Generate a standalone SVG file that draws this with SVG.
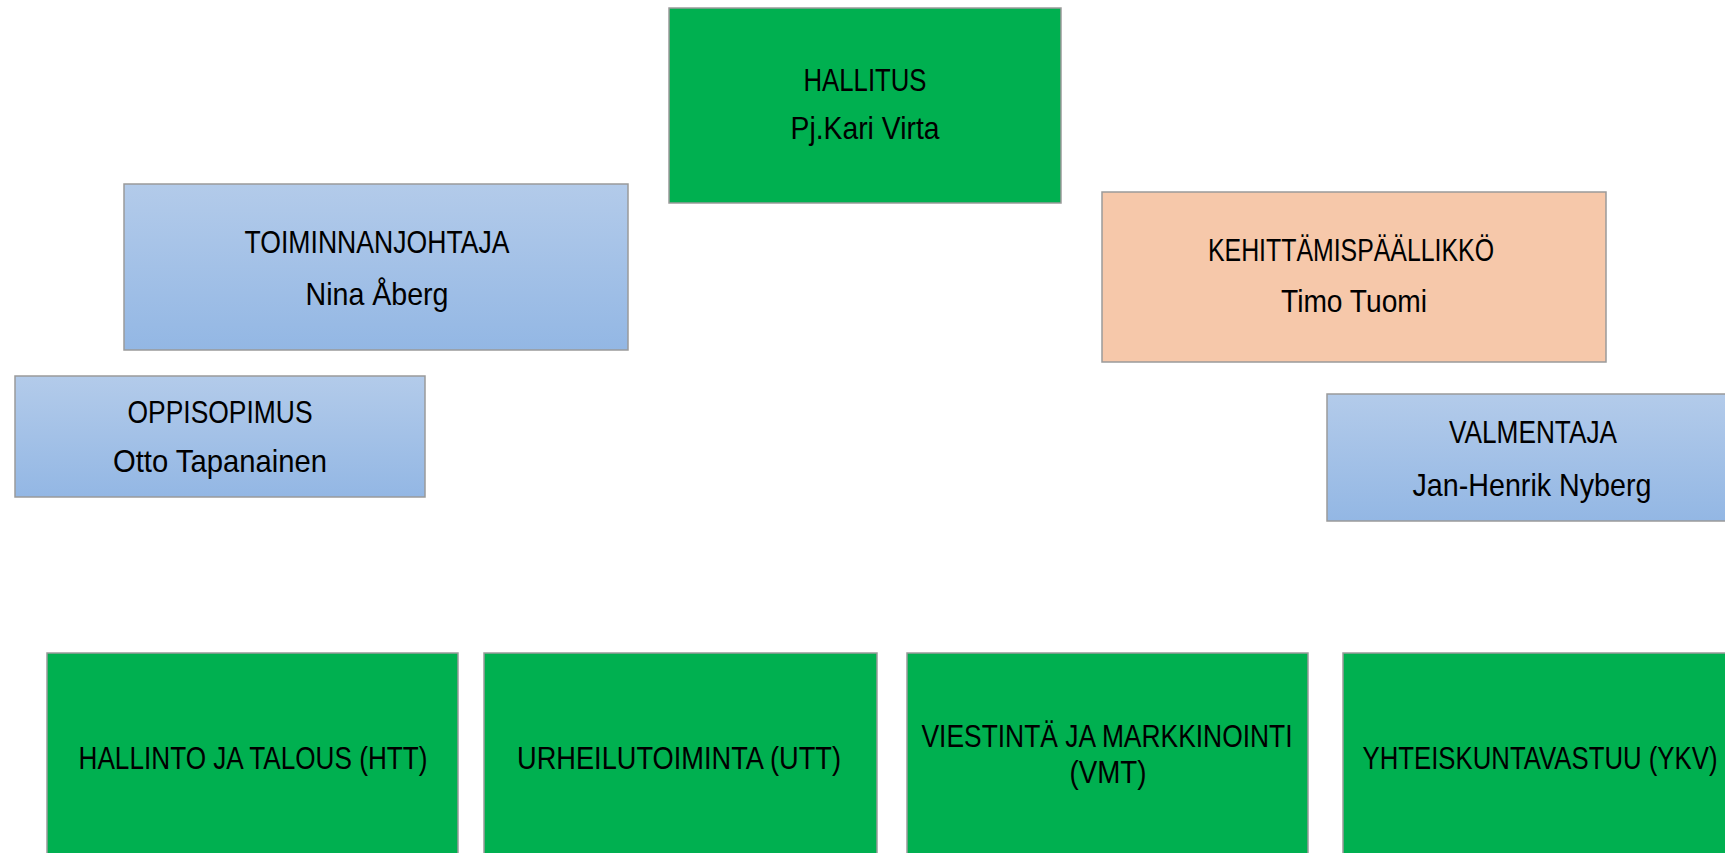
<svg xmlns="http://www.w3.org/2000/svg" width="1725" height="853" viewBox="0 0 1725 853">
<defs>
<linearGradient id="blueGrad" x1="0" y1="0" x2="0" y2="1">
<stop offset="0" stop-color="#B3CBEA"/>
<stop offset="1" stop-color="#93B7E4"/>
</linearGradient>
</defs>
<style>
.box{stroke:#9a9a9a;stroke-width:1.5}
.green{fill:#00B050}
.blue{fill:url(#blueGrad)}
.peach{fill:#F6C8AA}
.t{font-family:"Liberation Sans",Arial,sans-serif;font-size:32px;fill:#000;text-anchor:middle}
</style>
<rect x="0" y="0" width="1725" height="853" fill="#FFFFFF"/>
<g id="connectors"></g>
<g id="hallitus">
<rect class="box green" x="669" y="8" width="392" height="195"/>
<text class="t" x="865" y="91" textLength="123" lengthAdjust="spacingAndGlyphs">HALLITUS</text>
<text class="t" x="865" y="139" textLength="149" lengthAdjust="spacingAndGlyphs">Pj.Kari Virta</text>
</g>
<g id="toiminnanjohtaja">
<rect class="box blue" x="124" y="184" width="504" height="166"/>
<text class="t" x="377" y="253" textLength="265" lengthAdjust="spacingAndGlyphs">TOIMINNANJOHTAJA</text>
<text class="t" x="377" y="305" textLength="143" lengthAdjust="spacingAndGlyphs">Nina Åberg</text>
</g>
<g id="oppisopimus">
<rect class="box blue" x="15" y="376" width="410" height="121"/>
<text class="t" x="220" y="423" textLength="185" lengthAdjust="spacingAndGlyphs">OPPISOPIMUS</text>
<text class="t" x="220" y="472" textLength="214" lengthAdjust="spacingAndGlyphs">Otto Tapanainen</text>
</g>
<g id="kehittamispaallikko">
<rect class="box peach" x="1102" y="192" width="504" height="170"/>
<text class="t" x="1351" y="261" textLength="286" lengthAdjust="spacingAndGlyphs">KEHITTÄMISPÄÄLLIKKÖ</text>
<text class="t" x="1354" y="312" textLength="146" lengthAdjust="spacingAndGlyphs">Timo Tuomi</text>
</g>
<g id="valmentaja">
<rect class="box blue" x="1327" y="394" width="420" height="127"/>
<text class="t" x="1533" y="443" textLength="168" lengthAdjust="spacingAndGlyphs">VALMENTAJA</text>
<text class="t" x="1532" y="496" textLength="239" lengthAdjust="spacingAndGlyphs">Jan-Henrik Nyberg</text>
</g>
<g id="htt">
<rect class="box green" x="47" y="653" width="411" height="210"/>
<text class="t" x="253" y="769" textLength="349" lengthAdjust="spacingAndGlyphs">HALLINTO JA TALOUS (HTT)</text>
</g>
<g id="utt">
<rect class="box green" x="484" y="653" width="393" height="210"/>
<text class="t" x="679" y="769" textLength="324" lengthAdjust="spacingAndGlyphs">URHEILUTOIMINTA (UTT)</text>
</g>
<g id="vmt">
<rect class="box green" x="907" y="653" width="401" height="210"/>
<text class="t" x="1107" y="747" textLength="371" lengthAdjust="spacingAndGlyphs">VIESTINTÄ JA MARKKINOINTI</text>
<text class="t" x="1108" y="783" textLength="77" lengthAdjust="spacingAndGlyphs">(VMT)</text>
</g>
<g id="ykv">
<rect class="box green" x="1343" y="653" width="400" height="210"/>
<text class="t" x="1540" y="769" textLength="355" lengthAdjust="spacingAndGlyphs">YHTEISKUNTAVASTUU (YKV)</text>
</g>
</svg>
